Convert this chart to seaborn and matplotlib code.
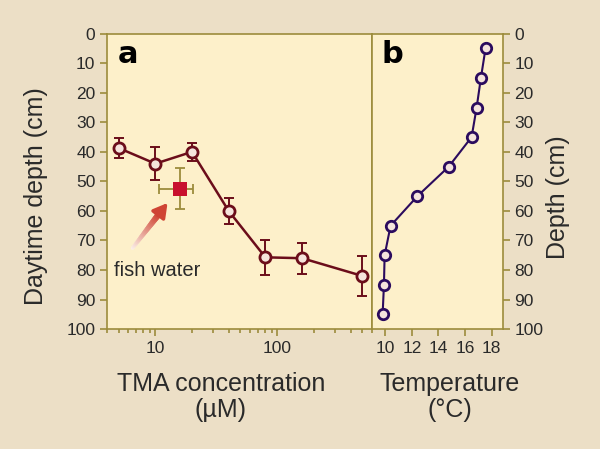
import numpy as np
import matplotlib
matplotlib.use("Agg")
import matplotlib.pyplot as plt
import seaborn as sns
from matplotlib.collections import LineCollection
from matplotlib.colors import LinearSegmentedColormap

sns.set_theme(style="ticks")
plt.rcParams["font.family"] = ["Liberation Sans", "DejaVu Sans"]

# ---- panel a: TMA concentration vs daytime depth ----
tma_conc = [5, 10, 20, 40, 80, 160, 500]
tma_depth = [38.7, 44, 40, 60, 75.7, 76, 82]
tma_err = [3.3, 5.5, 3.1, 4.4, 6.0, 5.2, 6.9]

# fish water point
fish_conc = [16]
fish_depth = [52.5]
fish_xerr_lo = [5.3]
fish_xerr_hi = [4.5]
fish_yerr = [7]

# ---- panel b: temperature profile ----
temp = [17.55, 17.2, 16.88, 16.5, 14.78, 12.42, 10.4, 9.95, 9.9, 9.8]
temp_depth = [5, 15, 25, 35, 45, 55, 65, 75, 85, 95]

depth_ticks = list(range(0, 101, 10))
temp_ticks = [10, 12, 14, 16, 18]

# arrow (tail -> tip) in data coords of panel a
arrow_tail = (6.5, 72.6)
arrow_tip = (12.6, 57.3)

BG = "#ecdfc6"
PANEL = "#fdf0ca"
OLIVE = "#9c8c3c"
RED = "#6b0d1a"
FILL = "#f5e4dc"
FISH = "#c8102e"
BLUE = "#2b0b5e"
TXT = "#2a2a2a"

fig = plt.figure(figsize=(6, 4.49), dpi=100, facecolor=BG)
ax_a = fig.add_axes([0.178, 0.267, 0.442, 0.658])
ax_b = fig.add_axes([0.62, 0.267, 0.218, 0.658])

for ax in (ax_a, ax_b):
    ax.set_facecolor(PANEL)
    for sp in ax.spines.values():
        sp.set_color(OLIVE)
        sp.set_linewidth(1.2)
    ax.tick_params(which="both", direction="out", color=OLIVE, labelcolor=TXT,
                   labelsize=12.5, width=1.2)
    ax.tick_params(which="major", length=5.2, pad=3)
    ax.tick_params(which="minor", length=3)
    ax.set_ylim(100, 0)
    ax.set_yticks(depth_ticks)

# panel a
ax_a.errorbar(tma_conc, tma_depth, yerr=tma_err, fmt="none", ecolor=RED,
              elinewidth=1.4, capsize=3.5, capthick=1.4, zorder=2)
sns.lineplot(x=tma_conc, y=tma_depth, ax=ax_a, sort=False, estimator=None,
             color=RED, linewidth=1.8, marker="o", markersize=8,
             markerfacecolor=FILL, markeredgecolor=RED, markeredgewidth=2,
             zorder=3)
ax_a.errorbar(fish_conc, fish_depth, xerr=[fish_xerr_lo, fish_xerr_hi],
              yerr=fish_yerr, fmt="none", ecolor=OLIVE, elinewidth=1.3,
              capsize=3.5, capthick=1.3, zorder=2)
sns.scatterplot(x=fish_conc, y=fish_depth, ax=ax_a, marker="s", s=110,
                color=FISH, edgecolor=FISH, linewidth=0, zorder=4)
ax_a.set_xscale("log")
ax_a.set_xlim(4, 600)
ax_a.set_xticks([10, 100])
ax_a.set_xticklabels(["10", "100"])
ax_a.set_ylim(100, 0)
ax_a.set_xlabel("TMA concentration\n(\u00b5M)", fontsize=18, color=TXT,
                linespacing=1.1)
ax_a.xaxis.set_label_coords(0.43, -0.146)
ax_a.xaxis.label.set_va("top")
ax_a.set_ylabel("Daytime depth (cm)", fontsize=18, color=TXT)
ax_a.yaxis.set_label_coords(-0.223, 0.45)
ax_a.text(0.04, 0.9, "a", transform=ax_a.transAxes, fontsize=22,
          fontweight="bold", family="DejaVu Sans", color="black", va="baseline")

# gradient arrow
t = np.linspace(0, 0.78, 30)
lx = np.log10(arrow_tail[0]) + t * (np.log10(arrow_tip[0]) - np.log10(arrow_tail[0]))
ly = arrow_tail[1] + t * (arrow_tip[1] - arrow_tail[1])
pts = np.column_stack([10 ** lx, ly]).reshape(-1, 1, 2)
segs = np.concatenate([pts[:-1], pts[1:]], axis=1)
cmap = LinearSegmentedColormap.from_list("fade", ["#fbeee6", "#d04a38"])
lc = LineCollection(segs, colors=cmap(np.linspace(0, 1, len(segs))),
                    linewidths=np.linspace(2.5, 4.5, len(segs)),
                    capstyle="round", zorder=3)
ax_a.add_collection(lc)
ax_a.annotate("", xy=arrow_tip, xytext=(10 ** lx[-3], ly[-3]),
              arrowprops=dict(arrowstyle="-|>,head_length=0.7,head_width=0.4",
                              color="#cf4434", lw=2.5, shrinkA=0, shrinkB=0),
              zorder=4)
ax_a.text(4.6, 80, "fish water", fontsize=14.5, color=TXT, va="center")

# panel b
sns.lineplot(x=temp, y=temp_depth, ax=ax_b, sort=False, estimator=None,
             color=BLUE, linewidth=1.5, marker="o", markersize=7.5,
             markerfacecolor=FILL, markeredgecolor=BLUE, markeredgewidth=2,
             zorder=3)
ax_b.set_xlim(9.0, 18.85)
ax_b.set_xticks(temp_ticks)
ax_b.set_ylim(100, 0)
ax_b.yaxis.tick_right()
ax_b.yaxis.set_label_position("right")
ax_b.set_xlabel("Temperature\n(\u00b0C)", fontsize=18, color=TXT, linespacing=1.1)
ax_b.xaxis.set_label_coords(0.595, -0.146)
ax_b.xaxis.label.set_va("top")
ax_b.set_ylabel("Depth (cm)", fontsize=18, color=TXT)
ax_b.yaxis.set_label_coords(1.333, 0.445)
ax_b.text(0.07, 0.9, "b", transform=ax_b.transAxes, fontsize=22,
          fontweight="bold", family="DejaVu Sans", color="black", va="baseline")

fig.savefig("out.png", dpi=100, facecolor=BG)
